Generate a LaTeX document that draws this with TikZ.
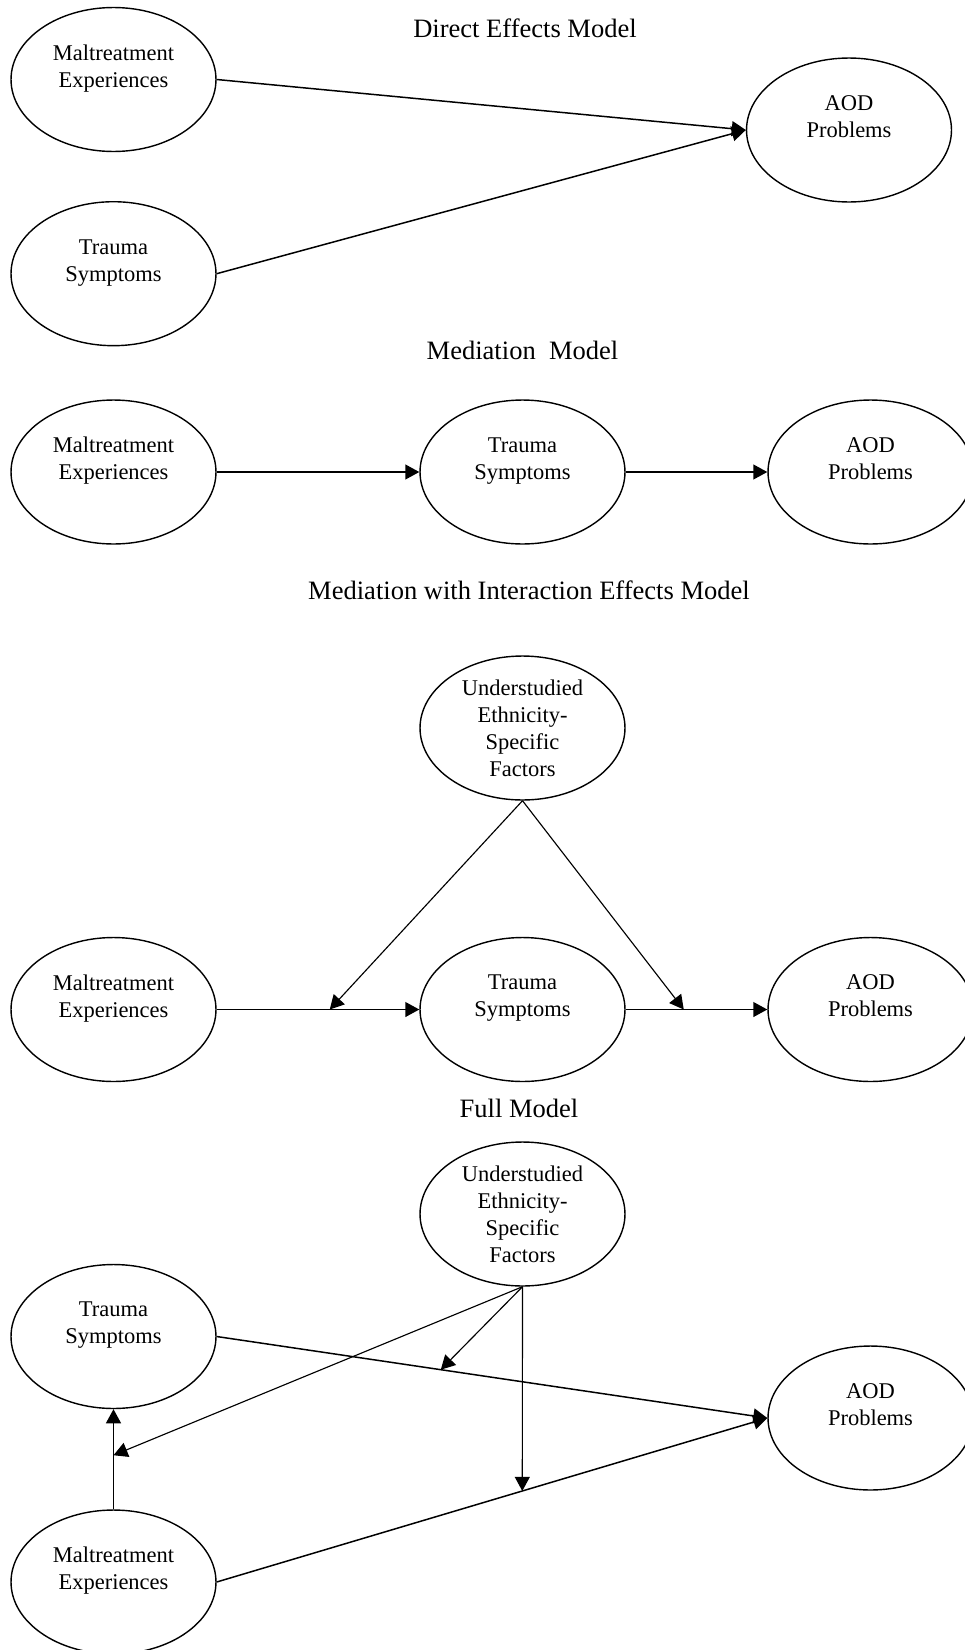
\documentclass[tikz,border=0pt]{standalone}
\usepackage{fontspec}
\setmainfont{Liberation Serif}
\usepackage{tikz}
\usetikzlibrary{positioning}
\usetikzlibrary{arrows.meta}
\usetikzlibrary{calc}
\usetikzlibrary{shapes.geometric}
\tikzset{>={Triangle[length=8pt,width=8.5pt]}}
\tikzstyle{varnode}=[black,draw=black,line width=0.8pt,shape=ellipse,fill=white,minimum width=4.1cm,minimum height=2.88cm,inner sep=0pt,align=center,font=\fontsize{12.8}{15.4}\selectfont]
\tikzstyle{ttl}=[black,font=\fontsize{15.1}{18}\selectfont]
\tikzstyle{parr}=[->,line width=0.85pt,color=black]
\tikzstyle{marr}=[->,line width=0.65pt,color=black]

\begin{document}
\begin{tikzpicture}[x=0.02cm,y=-0.02cm]

	\useasboundingbox (0,0) rectangle (964,1650);

	% Direct effects
	\begin{scope}
	\node[ttl] (atitle) at (525, 28.5) {Direct Effects Model};
	\node[varnode] (malt1) at (113.5, 79.5) {Maltreatment\\Experiences\\~};
	\node[varnode] (trauma1) at (113.5, 273.7) {Trauma\\Symptoms\\~};
	\node[varnode] (aod1) at (849, 130) {AOD\\Problems\\~};
	\draw[parr] (malt1.east) -- (aod1.west);
	\draw[parr] (trauma1.east) -- (aod1.west);
	\end{scope}

	% Mediation
	\begin{scope}
	\node[ttl] (btitle) at (522.5, 350) {Mediation\ \ Model};
	\node[varnode] (malt2) at (113.5, 472) {Maltreatment\\Experiences\\~};
	\node[varnode] (trauma2) at (522.5, 472) {Trauma\\Symptoms\\~};
	\node[varnode] (aod2) at (870.5, 472) {AOD\\Problems\\~};
	\draw[parr] (malt2) -- (trauma2);
	\draw[parr] (trauma2) -- (aod2);
	\end{scope}

	% Mediation with interaction
	\begin{scope}
	\node[ttl] (ctitle) at (529, 590) {Mediation with Interaction Effects Model};
	\node[varnode] (ues3) at (522.5, 728) {Understudied\\Ethnicity-\\Specific\\Factors};
	\node[varnode] (malt3) at (113.5, 1009.5) {Maltreatment\\Experiences\\~};
	\node[varnode] (trauma3) at (522.5, 1009.5) {Trauma\\Symptoms\\~};
	\node[varnode] (aod3) at (870.5, 1009.5) {AOD\\Problems\\~};
	\draw[parr] (malt3) -- (trauma3);
	\draw[parr] (trauma3) -- (aod3);
	\coordinate (mod3a) at ($(malt3.east)!0.558!(trauma3.west)$);
	\coordinate (mod3b) at ($(trauma3.east)!0.41!(aod3.west)$);
	\draw[marr] (ues3.south) -- (mod3a);
	\draw[marr] (ues3.south) -- (mod3b);
	\end{scope}

	% Full model
	\begin{scope}
	\node[ttl] (dtitle) at (519, 1108) {Full Model};
	\node[varnode] (ues4) at (522.5, 1214) {Understudied\\Ethnicity-\\Specific\\Factors};
	\node[varnode] (trauma4) at (113.5, 1336.5) {Trauma\\Symptoms\\~};
	\node[varnode] (malt4) at (113.5, 1582) {Maltreatment\\Experiences\\~};
	\node[varnode] (aod4) at (870.5, 1418) {AOD\\Problems\\~};
	\draw[parr] (malt4) -- (trauma4);
	\draw[parr] (trauma4.east) -- (aod4.west);
	\draw[parr] (malt4.east) -- (aod4.west);
	\coordinate (mod4a) at ($(malt4.north)!0.54!(trauma4.south)$);
	\coordinate (mod4b) at ($(trauma4.east)!0.407!(aod4.west)$);
	\coordinate (mod4c) at ($(malt4.east)!0.555!(aod4.west)$);
	\draw[marr] (ues4.south) -- (mod4a);
	\draw[marr] (ues4.south) -- (mod4b);
	\draw[marr] (ues4.south) -- (mod4c);
	\end{scope}

\end{tikzpicture}
\end{document}
